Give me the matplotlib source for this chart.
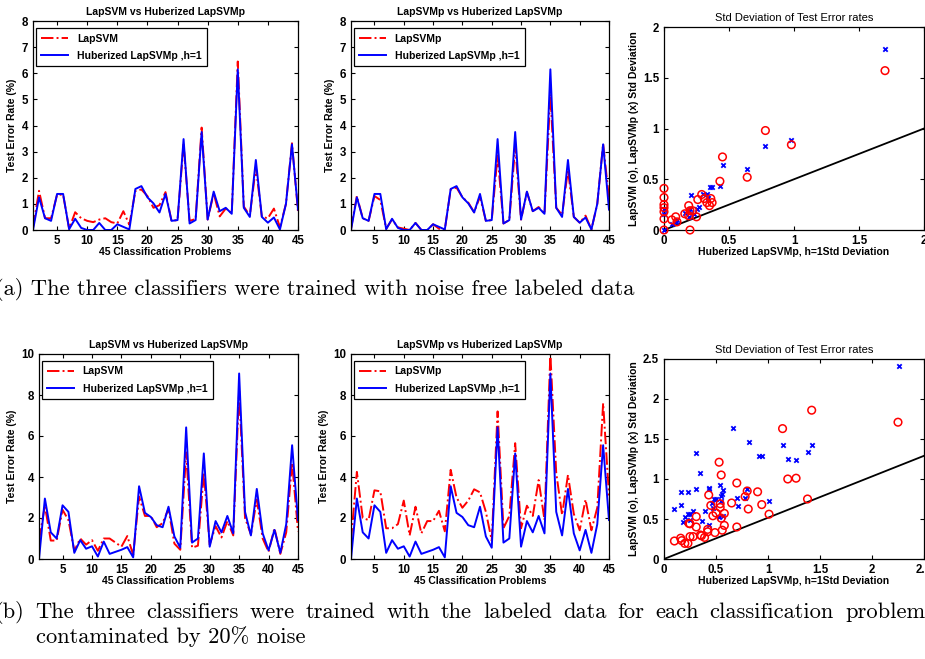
import matplotlib
matplotlib.use('Agg')
from matplotlib import pyplot as plt
from matplotlib.ticker import FormatStrFormatter
import numpy as np

# 45 classification problems on the x axis
problems = list(range(1, 46))

# (a) noise free labeled data: test error rate (%)
clean_lapsvm = [0.1, 1.5, 0.45, 0.45, 1.35, 1.35, 0.05, 0.68, 0.45, 0.35,
                0.3, 0.4, 0.45, 0.3, 0.25, 0.72, 0.2, 1.5, 1.55, 1.3,
                0.85, 0.95, 1.45, 0.35, 0.38, 3.3, 0.35, 0.42, 3.92, 0.4,
                1.4, 0.52, 0.82, 0.65, 6.45, 0.9, 0.55, 2.4, 0.5, 0.45,
                0.82, 0.1, 1.0, 3.32, 0.7]
clean_lapsvmp = [0.05, 1.3, 0.45, 0.35, 1.3, 1.15, 0.05, 0.4, 0.1, 0.05,
                 0.0, 0.27, 0.0, 0.0, 0.22, 0.05, 0.02, 1.55, 1.62, 1.25,
                 1.05, 0.68, 1.28, 0.35, 0.38, 2.85, 0.25, 0.38, 3.2, 0.4,
                 1.45, 0.72, 0.88, 0.62, 5.2, 0.85, 0.58, 2.3, 0.5, 0.28,
                 0.55, 0.02, 1.0, 3.3, 1.2]
clean_huber = [0.0, 1.25, 0.45, 0.35, 1.38, 1.38, 0.03, 0.43, 0.08, 0.0,
               0.0, 0.27, 0.0, 0.0, 0.22, 0.12, 0.02, 1.57, 1.68, 1.25,
               1.02, 0.67, 1.38, 0.35, 0.38, 3.48, 0.25, 0.38, 3.75, 0.4,
               1.47, 0.72, 0.85, 0.62, 6.15, 0.85, 0.5, 2.68, 0.5, 0.28,
               0.48, 0.02, 1.0, 3.28, 0.78]

# (b) labeled data contaminated by 20% noise
noisy_lapsvm = [0.9, 2.6, 0.9, 0.9, 2.4, 1.9, 0.4, 1.0, 0.7, 0.92,
                0.4, 1.0, 1.0, 0.8, 0.6, 1.12, 0.2, 3.05, 2.1, 2.1,
                1.55, 1.75, 2.45, 0.75, 0.45, 5.2, 0.55, 0.65, 4.2, 0.7,
                1.6, 1.05, 1.85, 1.15, 8.2, 2.0, 1.2, 2.9, 1.0, 0.35,
                1.5, 0.25, 1.3, 4.7, 1.35]
noisy_lapsvmp = [0.9, 4.25, 2.0, 1.9, 3.35, 3.3, 1.5, 1.5, 1.7, 2.85,
                 1.15, 2.55, 1.25, 1.85, 1.85, 2.35, 1.35, 4.35, 3.0, 2.5,
                 2.85, 3.4, 3.25, 2.3, 0.9, 7.2, 1.5, 2.1, 5.65, 1.5,
                 2.6, 2.1, 3.85, 1.9, 10.0, 4.2, 2.15, 4.1, 2.2, 1.4,
                 2.9, 1.4, 2.5, 7.6, 3.1]
noisy_huber = [0.0, 2.95, 1.3, 1.0, 2.62, 2.3, 0.3, 0.92, 0.5, 0.62,
               0.12, 0.85, 0.25, 0.35, 0.45, 0.58, 0.08, 3.55, 2.25, 2.05,
               1.65, 1.55, 2.55, 1.1, 0.55, 6.42, 0.8, 1.0, 5.15, 0.6,
               1.85, 1.3, 2.1, 1.25, 9.05, 2.3, 1.15, 3.42, 1.25, 0.42,
               1.42, 0.3, 1.7, 5.55, 1.9]

# std deviations, noise free: huberized (x) vs LapSVM (o) / LapSVMp (x)
std_a_svm_x = [0, 0, 0, 0, 0, 0, 0, 0.06, 0.09, 0.10, 0.16, 0.19, 0.20, 0.2, 0.22,
               0.25, 0.26, 0.29, 0.31, 0.33, 0.35, 0.36, 0.37, 0.43, 0.45,
               0.64, 0.78, 0.98, 1.7, 0.19]
std_a_svm_y = [0.41, 0.32, 0.25, 0.22, 0.18, 0.11, 0.0, 0.10, 0.13, 0.08, 0.16, 0.24,
               0.19, 0.0, 0.19, 0.13, 0.30, 0.35, 0.31, 0.27, 0.24, 0.31, 0.27,
               0.48, 0.72, 0.52, 0.98, 0.84, 1.57, 0.14]
std_a_svmp_x = [0, 0, 0, 0.06, 0.09, 0.10, 0.16, 0.19, 0.2, 0.21, 0.23, 0.25, 0.27,
                0.30, 0.33, 0.34, 0.35, 0.37, 0.43, 0.45, 0.64, 0.78, 0.98, 1.7, 0.19]
std_a_svmp_y = [0.0, 0.21, 0.16, 0.06, 0.08, 0.10, 0.17, 0.19, 0.21, 0.34, 0.16, 0.21,
                0.23, 0.35, 0.35, 0.32, 0.42, 0.42, 0.43, 0.64, 0.60, 0.83, 0.89, 1.78, 0.13]

# std deviations, 20% noise
std_b_svm_x = [0.10, 0.16, 0.17, 0.20, 0.23, 0.24, 0.25, 0.25, 0.28, 0.31, 0.31, 0.35,
               0.36, 0.39, 0.42, 0.42, 0.43, 0.45, 0.47, 0.49, 0.50, 0.53, 0.54, 0.54,
               0.55, 0.55, 0.56, 0.58, 0.58, 0.65, 0.70, 0.70, 0.78, 0.80, 0.81, 0.90,
               0.94, 1.01, 1.14, 1.19, 1.27, 1.38, 1.42, 2.25]
std_b_svm_y = [0.225, 0.26, 0.23, 0.195, 0.195, 0.445, 0.44, 0.28, 0.28, 0.53, 0.40, 0.30,
               0.29, 0.27, 0.37, 0.34, 0.80, 0.67, 0.54, 0.33, 0.575, 1.21, 0.645, 0.69,
               1.05, 0.51, 0.36, 0.42, 0.57, 0.70, 0.95, 0.40, 0.78, 0.85, 0.625, 0.84,
               0.68, 0.56, 1.63, 1.0, 1.01, 0.75, 1.86, 1.71]
std_b_svmp_x = [0.10, 0.16, 0.16, 0.18, 0.20, 0.23, 0.23, 0.25, 0.25, 0.28, 0.31, 0.31,
                0.35, 0.37, 0.39, 0.43, 0.43, 0.43, 0.46, 0.47, 0.48, 0.50, 0.53, 0.54,
                0.55, 0.55, 0.56, 0.57, 0.57, 0.66, 0.70, 0.71, 0.78, 0.80, 0.82, 0.91,
                0.94, 1.01, 1.14, 1.19, 1.27, 1.38, 1.42, 2.26]
std_b_svmp_y = [0.62, 0.84, 0.68, 0.46, 0.52, 0.84, 0.56, 0.56, 0.49, 0.60, 1.33, 0.87,
                1.08, 0.47, 0.60, 0.87, 0.89, 0.42, 0.70, 0.64, 0.75, 0.75, 0.53, 0.92,
                0.79, 0.72, 0.81, 0.86, 0.54, 1.64, 0.76, 0.66, 0.76, 0.88, 1.46, 1.29,
                1.29, 0.73, 1.42, 1.25, 1.24, 1.34, 1.43, 2.41]

# reference lines drawn in the std plots
ref_a_x = [0, 2]
ref_a_y = [0, 1]
ref_b_x = [0, 2.5]
ref_b_y = [0, 1.29]

caption_a = '(a) The three classifiers were trained with noise free labeled data'
caption_b1 = '(b) The three classifiers were trained with the labeled data for each classification problems'
caption_b2 = 'contaminated by 20% noise'

plt.rcParams['font.family'] = ['Liberation Sans', 'DejaVu Sans']
plt.rcParams['font.weight'] = 'bold'
plt.rcParams['axes.labelweight'] = 'bold'
plt.rcParams['font.size'] = 7.5
plt.rcParams['xtick.labelsize'] = 8.3
plt.rcParams['ytick.labelsize'] = 8.3
plt.rcParams['xtick.direction'] = 'in'
plt.rcParams['ytick.direction'] = 'in'
plt.rcParams['xtick.top'] = True
plt.rcParams['ytick.right'] = True
plt.rcParams['xtick.major.size'] = 3
plt.rcParams['ytick.major.size'] = 3
plt.rcParams['axes.linewidth'] = 0.9

W, H = 925.0, 659.0
fig = plt.figure(figsize=(W / 100, H / 100), dpi=100)


def rect(l, r, t, b):
    return [l / W, 1 - b / H, (r - l) / W, (b - t) / H]


def line_panel(box, red, blue, red_name, ymax, ystep):
    ax = fig.add_axes(box)
    ax.plot(problems, red, color='#ff0000', ls='-.', lw=1.4, label=red_name)
    ax.plot(problems, blue, color='#0000ff', ls='-', lw=1.4, label='Huberized LapSVMp ,h=1')
    ax.set_xlim(1, 45)
    ax.set_ylim(0, ymax)
    ax.set_xticks(range(5, 46, 5))
    ax.set_yticks(np.arange(0, ymax + 0.01, ystep))
    ax.set_title('LapSVM vs Huberized LapSVMp' if red_name == 'LapSVM'
                 else 'LapSVMp vs Huberized LapSVMp', fontsize=7.5, fontweight='bold', pad=4)
    ax.set_xlabel('45 Classification Problems', labelpad=0)
    ax.set_ylabel('Test Error Rate (%)', labelpad=3)
    leg = ax.legend(loc='upper left', bbox_to_anchor=(0.012, 0.965), borderaxespad=0,
                    fancybox=False, edgecolor='black', framealpha=1, handlelength=2.6,
                    prop={'weight': 'bold', 'size': 7.5}, borderpad=0.5, labelspacing=0.7)
    leg.get_frame().set_linewidth(0.9)
    return ax


def std_panel(box, sx, sy, px, py, lx, ly, lim):
    ax = fig.add_axes(box)
    ax.plot(lx, ly, color='black', lw=1.3)
    ax.scatter(px, py, marker='x', s=10, color='#0000ff', linewidths=1.3, zorder=3,
               clip_on=False)
    ax.scatter(sx, sy, marker='o', s=30, facecolors='none', edgecolors='#ff0000',
               linewidths=1.1, zorder=4, clip_on=False)
    ax.set_xlim(0, lim)
    ax.set_ylim(0, lim)
    ax.set_xticks(np.arange(0, lim + 0.01, 0.5))
    ax.set_yticks(np.arange(0, lim + 0.01, 0.5))
    ax.xaxis.set_major_formatter(FormatStrFormatter('%g'))
    ax.yaxis.set_major_formatter(FormatStrFormatter('%g'))
    ax.set_title('Std Deviation of Test Error rates', fontsize=8, fontweight='normal', pad=4)
    ax.set_xlabel('Huberized LapSVMp, h=1Std Deviation', labelpad=0)
    ax.set_ylabel('LapSVM (o), LapSVMp (x) Std Deviation', labelpad=3)
    return ax


line_panel(rect(33, 298, 21, 230), clean_lapsvm, clean_huber, 'LapSVM', 8, 1)
line_panel(rect(351, 609, 21, 230), clean_lapsvmp, clean_huber, 'LapSVMp', 8, 1)
std_panel(rect(664, 924, 27, 230), std_a_svm_x, std_a_svm_y, std_a_svmp_x, std_a_svmp_y,
          ref_a_x, ref_a_y, 2)

line_panel(rect(39, 298, 354, 559), noisy_lapsvm, noisy_huber, 'LapSVM', 10, 2)
line_panel(rect(351, 609, 354, 559), noisy_lapsvmp, noisy_huber, 'LapSVMp', 10, 2)
std_panel(rect(664, 924, 359, 559), std_b_svm_x, std_b_svm_y, std_b_svmp_x, std_b_svmp_y,
          ref_b_x, ref_b_y, 2.5)

# captions under each row (LaTeX style, first line of (b) is justified)
cap = dict(family='cmr10', fontsize=16.2, fontweight='normal', va='center', ha='left')
fig.text(-5 / W, 1 - 290 / H, caption_a, **cap)
fig.text(36 / W, 1 - 637 / H, caption_b2, **cap)

renderer = fig.canvas.get_renderer()
words = caption_b1.split()
texts = [fig.text(0, 1 - 612 / H, w, **cap) for w in words]
widths = [t.get_window_extent(renderer).width for t in texts]
x0, x1 = -5.0, 934.0
gap = (x1 - x0 - sum(widths)) / (len(words) - 1)
x = x0
for t, w in zip(texts, widths):
    t.set_x(x / W)
    x += w + gap

plt.savefig('out.png', dpi=100)
